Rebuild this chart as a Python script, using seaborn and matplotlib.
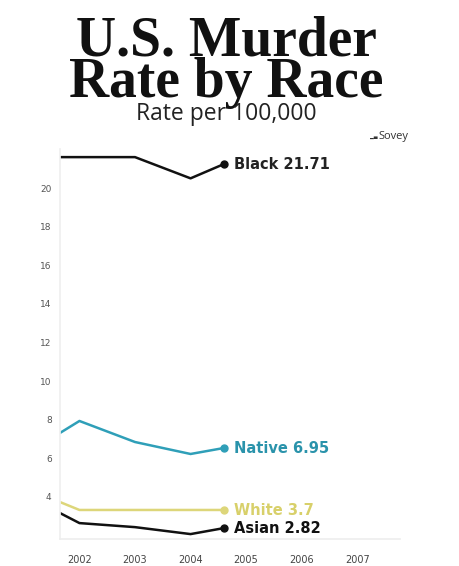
import numpy as np
import pandas as pd
import matplotlib
matplotlib.use("Agg")
import matplotlib.pyplot as plt
import seaborn as sns

# values (line stops mid-2004)
years = [2001.65, 2002, 2003, 2004, 2004.6]
black = [21.6, 21.6, 21.6, 20.5, 21.24]
native = [7.31, 7.93, 6.84, 6.22, 6.53]
white = [3.73, 3.32, 3.32, 3.32, 3.32]
asian = [3.16, 2.64, 2.43, 2.07, 2.38]

races = ["Black", "Native", "White", "Asian"]
end_labels = ["Black 21.71", "Native 6.95", "White 3.7", "Asian 2.82"]
colors = ["#111111", "#2f9fb8", "#ddd67a", "#111111"]
text_colors = ["#222222", "#2a93ab", "#d8d06a", "#111111"]
xticks = [2002, 2003, 2004, 2005, 2006, 2007]
yticks = [4, 6, 8, 10, 12, 14, 16, 18, 20]

df = pd.DataFrame({
    "year": years * 4,
    "rate": black + native + white + asian,
    "race": np.repeat(races, len(years)),
})

sns.set_theme(style="white")
plt.rcParams["font.family"] = ["DejaVu Sans"]

fig = plt.figure(figsize=(4.6, 5.66), dpi=100)
ax = fig.add_axes([60 / 460, 1 - 539.3 / 566, 340 / 460, (539.3 - 149.4) / 566])

sns.lineplot(data=df, x="year", y="rate", hue="race", palette=dict(zip(races, colors)),
             linewidth=1.8, legend=False, ax=ax)

last = df.groupby("race", sort=False).tail(1)
for race, lab, c, tc in zip(races, end_labels, colors, text_colors):
    row = last[last["race"] == race].iloc[0]
    ax.plot(row["year"], row["rate"], "o", color=c, markersize=5)
    ax.annotate(lab, (row["year"], row["rate"]), xytext=(7, -0.5), textcoords="offset points",
                ha="left", va="center", fontsize=10.5, fontweight="bold",
                color=tc, family="DejaVu Sans")

ax.set_xlim(2001.65, 2007.77)
ax.set_ylim(1.8, 22)
ax.set_xticks(xticks)
ax.set_yticks(yticks)
ax.set_xticklabels([str(t) for t in xticks], fontsize=7, color="#444444")
ax.set_yticklabels([str(t) for t in yticks], fontsize=6.5, color="#555555")
ax.tick_params(axis="x", length=0, pad=11)
ax.tick_params(axis="y", length=0, pad=6)
ax.set_xlabel("")
ax.set_ylabel("")
for s in ["top", "right"]:
    ax.spines[s].set_visible(False)
ax.spines["left"].set_color("#f0f0f0")
ax.spines["bottom"].set_color("#eeeeee")

fig.text(226 / 460, 1 - 55 / 566, "U.S. Murder", ha="center", va="baseline",
         fontsize=40, fontweight="bold", family="Liberation Serif", color="#111111")
fig.text(226 / 460, 1 - 97 / 566, "Rate by Race", ha="center", va="baseline",
         fontsize=40, fontweight="bold", family="Liberation Serif", color="#111111")
fig.text(226 / 460, 1 - 120 / 566, "Rate per 100,000", ha="center", va="baseline",
         fontsize=16.5, family="Open Sans", color="#222222")
fig.text(370 / 460, 1 - 138 / 566, "\u2582\u2584", ha="left", va="baseline",
         fontsize=3.5, family="DejaVu Sans", color="#333333")
fig.text(378 / 460, 1 - 139 / 566, "Sovey", ha="left", va="baseline",
         fontsize=8, family="Open Sans", color="#333333")

fig.savefig("out.png", dpi=100, facecolor="white")
